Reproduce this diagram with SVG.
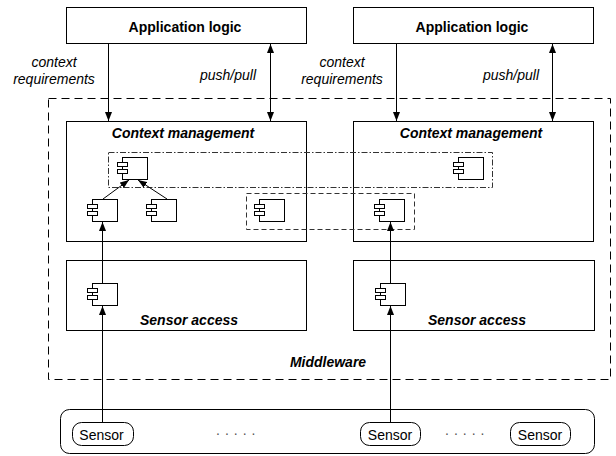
<svg xmlns="http://www.w3.org/2000/svg" width="616" height="456" viewBox="0 0 616 456">
<style>
.box{fill:#fff;stroke:#000;stroke-width:1}
.t{font-family:"Liberation Sans",Arial,sans-serif;font-size:14px;fill:#000}
.b{font-weight:bold}
.i{font-style:italic}
.dots{fill:#555;letter-spacing:5px}
.ln{stroke:#000;stroke-width:1;fill:none}
.dd{fill:none;stroke:#333;stroke-width:1;stroke-dasharray:6 2 1.5 2}
.ds{fill:none;stroke:#333;stroke-width:1;stroke-dasharray:5 3}
.mw{fill:none;stroke:#000;stroke-width:1;stroke-dasharray:8 5}
</style>
<defs>
<marker id="ah" markerUnits="userSpaceOnUse" markerWidth="9" markerHeight="7" refX="9" refY="3.5" orient="auto-start-reverse">
<path d="M0,0 L9,3.5 L0,7 z" fill="#000"/>
</marker>
<g id="cmp" fill="#fff" stroke="#000" stroke-width="1">
<rect x="0.5" y="0.5" width="25" height="22"/>
<rect x="-4.5" y="5.5" width="10" height="4"/>
<rect x="-4.5" y="12.5" width="10" height="4"/>
</g>
</defs>

<g id="middleware">
<rect class="mw" x="48.5" y="98.5" width="562" height="281"/>
<text class="t b i" x="328" y="367" text-anchor="middle">Middleware</text>
</g>

<g id="app-left">
<rect class="box" x="66.5" y="7.5" width="240" height="36"/>
<text class="t b" x="185" y="32" text-anchor="middle">Application logic</text>
</g>
<g id="app-right">
<rect class="box" x="353.5" y="7.5" width="240" height="36"/>
<text class="t b" x="472" y="32" text-anchor="middle">Application logic</text>
</g>

<g id="ctx-left">
<rect class="box" x="66.5" y="121.5" width="240" height="120"/>
<text class="t b i" x="183" y="138" text-anchor="middle">Context management</text>
</g>
<g id="ctx-right">
<rect class="box" x="353.5" y="121.5" width="240" height="120"/>
<text class="t b i" x="471" y="138" text-anchor="middle">Context management</text>
</g>

<g id="sensor-access-left">
<rect class="box" x="66.5" y="260.5" width="240" height="70"/>
<text class="t b i" x="189" y="325" text-anchor="middle">Sensor access</text>
</g>
<g id="sensor-access-right">
<rect class="box" x="353.5" y="260.5" width="241" height="70"/>
<text class="t b i" x="477" y="325" text-anchor="middle">Sensor access</text>
</g>

<g id="group-dashdot">
<rect class="dd" x="108.5" y="152.5" width="384" height="35"/>
</g>
<g id="group-dashed">
<rect class="ds" x="246.5" y="193.5" width="168" height="36"/>
</g>

<g id="components">
<use id="c-top-left" href="#cmp" x="122" y="157"/>
<use id="c-bl" href="#cmp" x="92" y="199"/>
<use id="c-bm" href="#cmp" x="151" y="199"/>
<use id="c-dl" href="#cmp" x="259" y="199"/>
<use id="c-dr" href="#cmp" x="379" y="199"/>
<use id="c-top-right" href="#cmp" x="458" y="157"/>
<use id="c-sa-left" href="#cmp" x="92" y="283"/>
<use id="c-sa-right" href="#cmp" x="380" y="283"/>
</g>

<g id="sensors">
<rect class="box" x="60.5" y="409.5" width="534" height="44" rx="9"/>
<g id="sensor1">
<rect class="box" x="72.5" y="422.5" width="61" height="23" rx="9"/>
<text class="t" x="101.5" y="440" text-anchor="middle">Sensor</text>
</g>
<g id="sensor2">
<rect class="box" x="360.5" y="422.5" width="60" height="23" rx="9"/>
<text class="t" x="390" y="440" text-anchor="middle">Sensor</text>
</g>
<g id="sensor3">
<rect class="box" x="510.5" y="422.5" width="60" height="23" rx="9"/>
<text class="t" x="540" y="440" text-anchor="middle">Sensor</text>
</g>
<text class="t dots" x="216" y="435">.....</text>
<text class="t dots" x="445" y="435">.....</text>
</g>

<g id="connectors">
<line class="ln" x1="108.5" y1="43.5" x2="108.5" y2="121" marker-end="url(#ah)"/>
<line class="ln" x1="270.5" y1="44" x2="270.5" y2="121" marker-start="url(#ah)" marker-end="url(#ah)"/>
<line class="ln" x1="396.5" y1="43.5" x2="396.5" y2="121" marker-end="url(#ah)"/>
<line class="ln" x1="552.5" y1="44" x2="552.5" y2="121" marker-start="url(#ah)" marker-end="url(#ah)"/>
<line class="ln" x1="102.5" y1="422" x2="102.5" y2="306" marker-end="url(#ah)"/>
<line class="ln" x1="390.5" y1="422" x2="390.5" y2="306" marker-end="url(#ah)"/>
<line class="ln" x1="102.5" y1="283" x2="102.5" y2="222" marker-end="url(#ah)"/>
<line class="ln" x1="390.5" y1="283" x2="390.5" y2="222" marker-end="url(#ah)"/>
<line class="ln" x1="103" y1="199" x2="129" y2="180" marker-end="url(#ah)"/>
<line class="ln" x1="167" y1="199" x2="138" y2="180" marker-end="url(#ah)"/>
<text class="t i" x="54" y="67" text-anchor="middle">context</text>
<text class="t i" x="54" y="84" text-anchor="middle">requirements</text>
<text class="t i" x="228" y="80" text-anchor="middle">push/pull</text>
<text class="t i" x="342" y="67" text-anchor="middle">context</text>
<text class="t i" x="342" y="84" text-anchor="middle">requirements</text>
<text class="t i" x="511" y="80" text-anchor="middle">push/pull</text>
</g>
</svg>
